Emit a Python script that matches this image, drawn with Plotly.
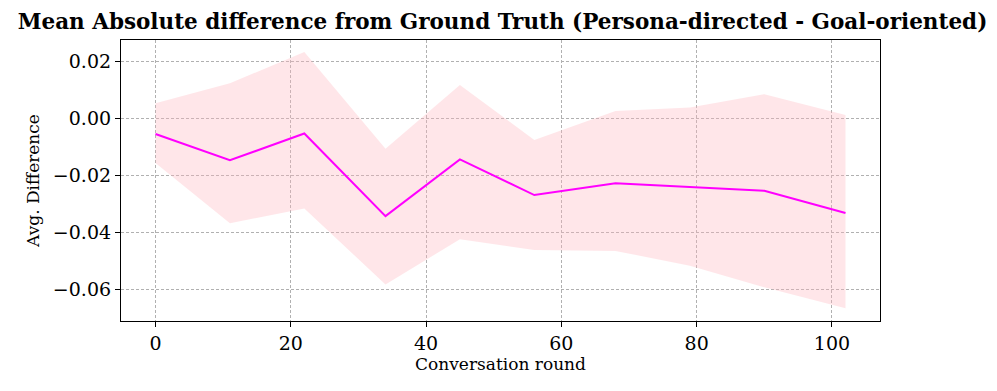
import plotly.graph_objects as go

rounds = [0, 11, 22, 34, 45, 56, 68, 79, 90, 102]
mean_diff = [-0.0055, -0.0147, -0.0053, -0.0343, -0.0144, -0.0269, -0.0228, -0.0241, -0.0254, -0.0332]
upper = [0.0053, 0.0123, 0.0233, -0.0107, 0.0117, -0.0076, 0.0026, 0.0038, 0.0085, 0.0012]
lower = [-0.0157, -0.0368, -0.0316, -0.0583, -0.0424, -0.0462, -0.0465, -0.0517, -0.0593, -0.0666]

serif = "DejaVu Serif"

fig = go.Figure()

# shaded band
fig.add_trace(go.Scatter(
    x=rounds, y=upper, mode="lines",
    line=dict(width=0), hoverinfo="skip", showlegend=False
))
fig.add_trace(go.Scatter(
    x=rounds, y=lower, mode="lines",
    line=dict(width=0), fill="tonexty",
    fillcolor="rgba(255,182,193,0.35)", hoverinfo="skip", showlegend=False
))

# mean line
fig.add_trace(go.Scatter(
    x=rounds, y=mean_diff, mode="lines",
    line=dict(color="#ff00ff", width=2), showlegend=False
))

axis_common = dict(
    showline=True, linecolor="black", linewidth=1.2, mirror=True,
    ticks="outside", ticklen=5, tickcolor="black",
    showgrid=True, gridcolor="#b0b0b0", griddash="3px,2px", gridwidth=0.8,
    zeroline=False, automargin=False,
    tickfont=dict(family=serif, size=19, color="black"),
)

fig.update_xaxes(
    range=[-5.1, 107.1], tickvals=[0, 20, 40, 60, 80, 100],
    title=dict(text="Conversation round", font=dict(family=serif, size=17, color="black"), standoff=4),
    **axis_common
)
fig.update_yaxes(
    range=[-0.0711, 0.0275], tickvals=[0.02, 0.0, -0.02, -0.04, -0.06], tickformat=".2f",
    title=dict(text="Avg. Difference", font=dict(family=serif, size=17, color="black"), standoff=8),
    **axis_common
)

# page body has an 8px margin, so the figure is sized/offset to fit the window
fig.update_layout(
    width=989, height=383,
    margin=dict(l=113, r=117, t=32, b=70),
    plot_bgcolor="white", paper_bgcolor="white",
    title=dict(
        text="<b>Mean Absolute difference from Ground Truth (Persona-directed - Goal-oriented)</b>",
        font=dict(family=serif, size=21.5, color="black"),
        x=0.5, xanchor="center", y=0.966, yanchor="middle"
    ),
)

fig.write_html("out.html")
